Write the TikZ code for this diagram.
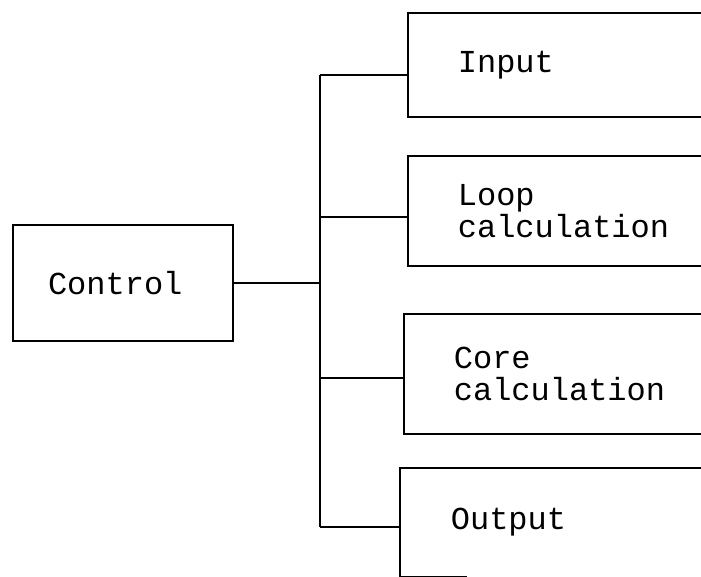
\documentclass[tikz,border=0pt]{standalone}
\usepackage{fontspec}
\newfontfamily\typefont{Liberation Mono}
\begin{document}
\begin{tikzpicture}[x=1pt,y=-1pt,
  every node/.style={font=\typefont\fontsize{32}{32}\selectfont},
  wire/.style={line width=1.7pt},
  ctlbox/.style={draw,line width=1.7pt,align=left,text width=150pt,inner xsep=35pt,
    inner ysep=0pt,minimum height=116pt},
  sidebox/.style={draw,line width=1.7pt,anchor=north west,align=left,
    text width=240pt,inner xsep=48pt,inner ysep=0pt,minimum width=340pt}]
\useasboundingbox (0,0) rectangle (701,577);
\clip (0,0) rectangle (701,577);
% main control block
\node[ctlbox] (ctl) at (123,283) {Control};
% the four sub-blocks, running off to the right
\node[sidebox,minimum height=104pt] (inp) at (407,12) {Input};
\node[sidebox,minimum height=110pt] (loop) at (407,155) {Loop\\calculation};
\node[sidebox,minimum height=120pt] (core) at (403,313) {Core\\calculation};
\node[sidebox,draw=none,minimum height=107pt] (out) at (400,468) {Output};
\draw[wire] (out.north east) -- (out.north west) -- (out.south west) -- ++(67,0);
% distribution bus
\coordinate (bIn) at (320,75);
\coordinate (bLoop) at (320,217);
\coordinate (bCore) at (320,378);
\coordinate (bOut) at (320,527);
\draw[wire] (bIn) -- (bOut);
\draw[wire] (ctl.east) -- (ctl.east -| bIn);
\draw[wire] (bIn) -- (bIn -| inp.west);
\draw[wire] (bLoop) -- (bLoop -| loop.west);
\draw[wire] (bCore) -- (bCore -| core.west);
\draw[wire] (bOut) -- (bOut -| out.west);
\end{tikzpicture}
\end{document}
